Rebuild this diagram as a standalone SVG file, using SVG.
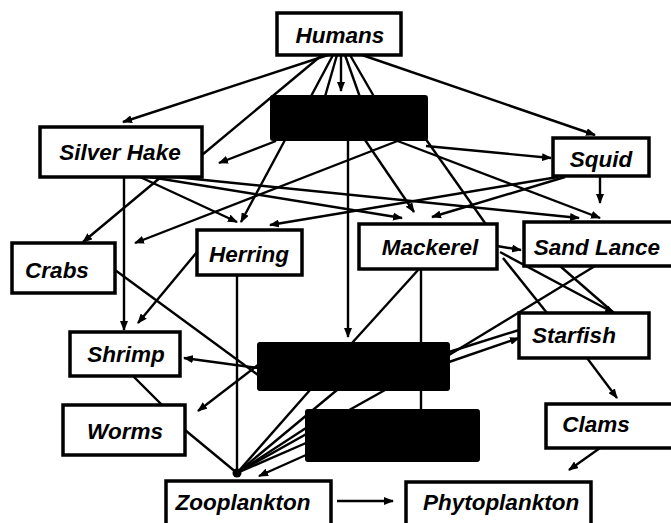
<svg xmlns="http://www.w3.org/2000/svg" width="671" height="523" viewBox="0 0 671 523">
<defs>
<marker id="ah" markerUnits="userSpaceOnUse" markerWidth="10" markerHeight="8" refX="9" refY="4" orient="auto">
<path d="M0,0 L10,4 L0,8 z" fill="#000"/>
</marker>
<style>
.c line{stroke:#000;stroke-width:2.4;fill:none}
.c .a{marker-end:url(#ah)}
.n rect{fill:#fff;stroke:#000;stroke-width:3.5}
.b rect{fill:#000;stroke:#000;stroke-width:2}
.n text{font-family:"Liberation Sans",Arial,sans-serif;font-weight:bold;font-style:italic;font-size:22.5px;fill:#000;text-anchor:middle}
</style>
</defs>
<rect width="671" height="523" fill="#fff"/>
<g id="connectors" class="c">
<line class="a" x1="328" y1="55" x2="123" y2="122"/>
<line class="a" x1="362" y1="55" x2="595" y2="135"/>
<line class="a" x1="341" y1="55" x2="341" y2="91"/>
<line x1="322" y1="55" x2="202" y2="155"/>
<line x1="333" y1="55" x2="309" y2="100"/>
<line x1="337" y1="55" x2="324" y2="100"/>
<line x1="345" y1="55" x2="361" y2="100"/>
<line x1="350" y1="55" x2="376" y2="100"/>
<line class="a" x1="276" y1="141" x2="219" y2="163"/>
<line class="a" x1="426" y1="146" x2="551" y2="158"/>
<line class="a" x1="161" y1="177" x2="83" y2="242"/>
<line class="a" x1="124" y1="177" x2="124" y2="330"/>
<line class="a" x1="140" y1="177" x2="237" y2="222"/>
<line class="a" x1="150" y1="177" x2="402" y2="218"/>
<line class="a" x1="175" y1="177" x2="579" y2="218"/>
<line class="a" x1="285" y1="140" x2="241" y2="222"/>
<line class="a" x1="400" y1="140" x2="135" y2="243"/>
<line class="a" x1="558" y1="177" x2="270" y2="225"/>
<line class="a" x1="348" y1="140" x2="348" y2="337"/>
<line class="a" x1="365" y1="140" x2="414" y2="212"/>
<line class="a" x1="395" y1="140" x2="600" y2="218"/>
<line class="a" x1="600" y1="176" x2="600" y2="203"/>
<line class="a" x1="565" y1="177" x2="432" y2="217"/>
<line x1="425" y1="138" x2="497" y2="240"/>
<line class="a" x1="497" y1="246" x2="521" y2="250"/>
<line class="a" x1="197" y1="252" x2="138" y2="323"/>
<line x1="115" y1="270" x2="258" y2="375"/>
<line class="a" x1="258" y1="368" x2="184" y2="358"/>
<line class="a" x1="258" y1="365" x2="198" y2="411"/>
<line x1="237" y1="276" x2="237" y2="473"/>
<line x1="419" y1="269" x2="352" y2="343"/>
<line x1="421" y1="269" x2="421" y2="410"/>
<line x1="503" y1="258" x2="547" y2="313"/>
<line class="a" x1="500" y1="252" x2="614" y2="313"/>
<line x1="560" y1="266" x2="614" y2="313"/>
<line x1="595" y1="266" x2="449" y2="355"/>
<line class="a" x1="449" y1="362" x2="519" y2="338"/>
<line x1="449" y1="352" x2="519" y2="330"/>
<line class="a" x1="587" y1="358" x2="617" y2="398"/>
<line class="a" x1="600" y1="448" x2="569" y2="470"/>
<line x1="133" y1="376" x2="162" y2="405"/>
<line x1="185" y1="430" x2="237" y2="473"/>
<line x1="310" y1="390" x2="237" y2="473"/>
<line x1="337" y1="390" x2="237" y2="473"/>
<line x1="385" y1="390" x2="237" y2="473"/>
<line x1="306" y1="428" x2="237" y2="473"/>
<line x1="306" y1="443" x2="237" y2="473"/>
<line class="a" x1="306" y1="455" x2="259" y2="476"/>
<line class="a" x1="337" y1="501" x2="393" y2="501"/>
<circle cx="237" cy="473" r="4.5" fill="#000"/>
</g>
<g id="humans" class="n"><rect x="277" y="13" width="124" height="42"/><text x="340" y="43">Humans</text></g>
<g id="silver-hake" class="n"><rect x="40" y="127" width="162" height="50"/><text x="120" y="160">Silver Hake</text></g>
<g id="squid" class="n"><rect x="553" y="138" width="96" height="38"/><text x="601" y="167">Squid</text></g>
<g id="crabs" class="n"><rect x="12" y="243" width="103" height="50"/><text x="57" y="278">Crabs</text></g>
<g id="herring" class="n"><rect x="197" y="230" width="105" height="45"/><text x="249" y="262">Herring</text></g>
<g id="mackerel" class="n"><rect x="359" y="224" width="138" height="45"/><text x="430" y="255">Mackerel</text></g>
<g id="sand-lance" class="n"><rect x="524" y="222" width="152" height="44"/><text x="597" y="255">Sand Lance</text></g>
<g id="shrimp" class="n"><rect x="70" y="332" width="110" height="44"/><text x="126" y="362">Shrimp</text></g>
<g id="starfish" class="n"><rect x="519" y="313" width="130" height="45"/><text x="574" y="343">Starfish</text></g>
<g id="worms" class="n"><rect x="63" y="405" width="122" height="50"/><text x="125" y="439">Worms</text></g>
<g id="clams" class="n"><rect x="546" y="404" width="130" height="44"/><text x="596" y="432">Clams</text></g>
<g id="zooplankton" class="n"><rect x="166" y="481" width="165" height="52"/><text x="243" y="510">Zooplankton</text></g>
<g id="phytoplankton" class="n"><rect x="406" y="482" width="185" height="52"/><text x="501" y="510">Phytoplankton</text></g>
<g id="hidden-1" class="b"><rect x="271" y="96" width="156" height="44" rx="2"/></g>
<g id="hidden-2" class="b"><rect x="258" y="343" width="191" height="47" rx="2"/></g>
<g id="hidden-3" class="b"><rect x="306" y="410" width="173" height="51" rx="2"/></g>
</svg>
